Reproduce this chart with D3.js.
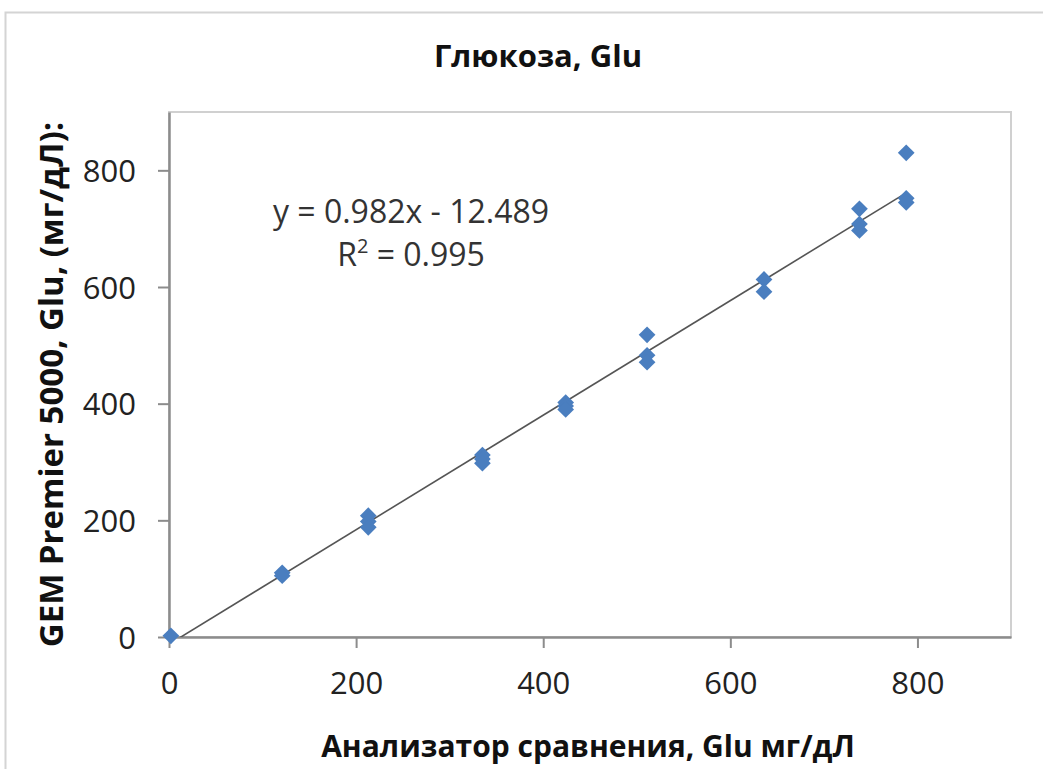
<!DOCTYPE html>
<html>
<head>
<meta charset="utf-8">
<script src="https://cdn.jsdelivr.net/npm/d3@7"></script>
<style>
  html, body { margin: 0; padding: 0; background: #fff; }
  svg { display: block; }
</style>
</head>
<body>
<svg id="chart" width="1043" height="769"></svg>
<script>
// Comparison measurements: reference analyzer (x) vs GEM Premier 5000 (y), mg/dL
const refValues = [2, 121, 121, 213, 213, 213, 335, 335, 335, 424, 424, 424,
                   511, 511, 511, 636, 636, 738, 738, 738, 788, 788, 788];
const gemValues = [2, 110, 105, 208, 198, 188, 312, 305, 298, 402, 396, 390,
                   518, 483, 471, 613, 592, 734, 708, 697, 830, 752, 745];

// Linear trendline reported on the chart
const slope = 0.982;
const intercept = -12.489;
const rSquared = 0.995;

const xTicks = [0, 200, 400, 600, 800];
const yTicks = [0, 200, 400, 600, 800];

const titleText = "Глюкоза, Glu";
const xTitle = "Анализатор сравнения, Glu мг/дЛ";
const yTitle = "GEM Premier 5000, Glu, (мг/дЛ):";

const points = refValues.map((x, i) => ({ x, y: gemValues[i] }));

const svg = d3.select("#chart");
const plot = { left: 169, top: 112, right: 1011, bottom: 637 };

const x = d3.scaleLinear().domain([0, 900]).range([plot.left, plot.right]);
const y = d3.scaleLinear().domain([0, 900]).range([plot.bottom, plot.top]);

const fontFamily = "'Open Sans', 'DejaVu Sans', sans-serif";

// Outer chart frame
svg.append("rect")
  .attr("x", 5.5).attr("y", 12.5)
  .attr("width", 1100).attr("height", 800)
  .attr("fill", "#fff")
  .attr("stroke", "#d4d4d4").attr("stroke-width", 2);

// Plot area border
svg.append("rect")
  .attr("x", plot.left).attr("y", plot.top)
  .attr("width", plot.right - plot.left).attr("height", plot.bottom - plot.top)
  .attr("fill", "#fff")
  .attr("stroke", "#d0d0d0").attr("stroke-width", 2);

// Title
svg.append("text")
  .attr("x", 538).attr("y", 67)
  .attr("text-anchor", "middle")
  .attr("font-family", fontFamily)
  .attr("font-weight", "bold")
  .attr("font-size", 31)
  .attr("fill", "#111")
  .text(titleText);

// Axes
const xAxis = d3.axisBottom(x).tickValues(xTicks).tickSize(11).tickSizeOuter(0).tickPadding(24);
const yAxis = d3.axisLeft(y).tickValues(yTicks).tickSize(11).tickSizeOuter(0).tickPadding(22);

const gx = svg.append("g")
  .attr("transform", `translate(0,${plot.bottom})`)
  .call(xAxis);
const gy = svg.append("g")
  .attr("transform", `translate(${plot.left},0)`)
  .call(yAxis);

[gx, gy].forEach(g => {
  g.select(".domain").attr("stroke", "#8c8c8c").attr("stroke-width", 2.5);
  g.selectAll(".tick line").attr("stroke", "#8c8c8c").attr("stroke-width", 2);
  g.selectAll(".tick text")
    .attr("font-family", fontFamily)
    .attr("font-size", 31)
    .attr("fill", "#222");
});
gy.selectAll(".tick text").attr("dy", "0.36em");

// Trendline, clipped to the plot area
svg.append("clipPath").attr("id", "plot-clip")
  .append("rect")
  .attr("x", plot.left).attr("y", plot.top)
  .attr("width", plot.right - plot.left).attr("height", plot.bottom - plot.top);

const xMin = 0;
const xMax = d3.max(refValues);
svg.append("line")
  .attr("clip-path", "url(#plot-clip)")
  .attr("x1", x(xMin)).attr("y1", y(slope * xMin + intercept))
  .attr("x2", x(xMax)).attr("y2", y(slope * xMax + intercept))
  .attr("stroke", "#555")
  .attr("stroke-width", 1.6);

// Data points as diamonds
const diamond = d3.symbol().type(d3.symbolSquare).size(140);
svg.append("g")
  .selectAll("path")
  .data(points)
  .join("path")
  .attr("d", diamond)
  .attr("transform", d => `translate(${x(d.x)},${y(d.y)}) rotate(45)`)
  .attr("fill", "#4a7ebf");

// Regression equation and R²
const eq = svg.append("text")
  .attr("font-family", fontFamily)
  .attr("font-size", 32)
  .attr("fill", "#333")
  .attr("text-anchor", "middle");
eq.append("tspan")
  .attr("x", 411).attr("y", 223)
  .text(`y = ${slope}x - ${Math.abs(intercept)}`);
const r2 = eq.append("tspan").attr("x", 411).attr("y", 266);
r2.append("tspan").text("R");
r2.append("tspan").attr("font-size", 20).attr("dy", -13).text("2");
r2.append("tspan").attr("dy", 13).text(` = ${rSquared}`);

// Axis titles
svg.append("text")
  .attr("x", 588).attr("y", 757)
  .attr("text-anchor", "middle")
  .attr("font-family", fontFamily)
  .attr("font-weight", "bold")
  .attr("font-size", 30)
  .attr("fill", "#111")
  .text(xTitle);

svg.append("text")
  .attr("transform", `translate(63,${(plot.top + plot.bottom) / 2 + 10}) rotate(-90)`)
  .attr("text-anchor", "middle")
  .attr("font-family", fontFamily)
  .attr("font-weight", "bold")
  .attr("font-size", 33)
  .attr("fill", "#111")
  .text(yTitle);
</script>
</body>
</html>
